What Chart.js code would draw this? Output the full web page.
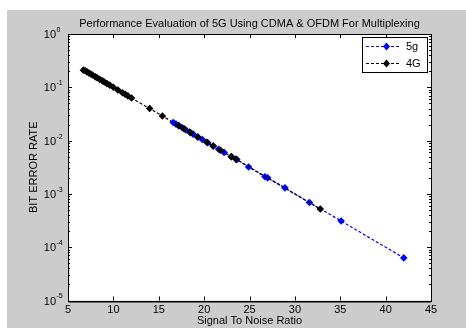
<!DOCTYPE html>
<html>
<head>
<meta charset="utf-8">
<script src="https://cdn.jsdelivr.net/npm/chart.js"></script>
<style>
  html, body { margin: 0; padding: 0; background: #fff; }
  #wrap { width: 466px; height: 328px; }
</style>
</head>
<body>
<div id="wrap"><canvas id="myChart" width="466" height="328"></canvas></div>
<script>
// values
var title = 'Performance Evaluation of 5G Using CDMA & OFDM For Multiplexing';
var xLabel = 'Signal To Noise Ratio';
var yLabel = 'BIT ERROR RATE';
var xTicks = [5, 10, 15, 20, 25, 30, 35, 40, 45];
var yExponents = [0, -1, -2, -3, -4, -5];

var snr5g = [16.6, 16.9, 17.2, 17.6, 18.0, 18.4, 18.8, 19.3, 19.8, 20.4, 21.0, 21.6, 22.2, 23.0, 23.6, 24.9, 26.7, 27.0, 28.9, 31.6, 35.1, 42.0];
var ber5g = [0.0219, 0.0204, 0.0191, 0.0174, 0.0158, 0.0145, 0.0132, 0.0117, 0.0105, 0.0091, 0.0079, 0.0069, 0.0060, 0.0050, 0.0044, 0.0032, 0.0021, 0.0020, 0.0013, 0.00069, 0.00031, 0.000063];

var snr4g = [6.7, 6.9, 7.1, 7.3, 7.5, 7.7, 8.0, 8.2, 8.5, 8.8, 9.0, 9.3, 9.6, 10.0, 10.5, 11.0, 11.3, 11.6, 12.0, 14.0, 15.4, 17.2, 17.8, 18.5, 19.3, 20.3, 21.0, 21.8, 23.0, 23.5, 32.8];
var ber4g = [0.21, 0.204, 0.195, 0.186, 0.178, 0.170, 0.158, 0.151, 0.141, 0.132, 0.126, 0.117, 0.110, 0.100, 0.089, 0.079, 0.074, 0.069, 0.063, 0.040, 0.029, 0.019, 0.0166, 0.0141, 0.0117, 0.0093, 0.0079, 0.0066, 0.0050, 0.0045, 0.00052];

function pts(xs, ys) {
    return xs.map(function (x, i) { return { x: x, y: ys[i] }; });
}

var FONT = '"Liberation Sans", Arial, sans-serif';

// matlab style frame: grey figure, boxed axes, inward ticks, custom legend
var matlabFrame = {
    id: 'matlabFrame',
    beforeDraw: function (chart) {
        var c = chart.ctx, a = chart.chartArea;
        c.save();
        c.fillStyle = '#fff';
        c.fillRect(0, 0, chart.width, chart.height);
        c.fillStyle = '#cccccc';
        c.fillRect(7, 10, chart.width - 7, chart.height - 10);
        c.fillStyle = '#fff';
        c.fillRect(a.left, a.top, a.right - a.left, a.bottom - a.top);
        c.restore();
    },
    afterDraw: function (chart) {
        var c = chart.ctx, a = chart.chartArea;
        var xs = chart.scales.x, ys = chart.scales.y;
        c.save();
        c.strokeStyle = '#000';
        c.lineWidth = 1;
        c.strokeRect(Math.round(a.left) + 0.5, Math.round(a.top) + 0.5,
            Math.round(a.right - a.left), Math.round(a.bottom - a.top));
        // matlab draws the x and y axis lines a bit heavier
        c.beginPath();
        c.moveTo(Math.round(a.left) + 0.5, a.top);
        c.lineTo(Math.round(a.left) + 0.5, Math.round(a.bottom) + 1);
        c.lineTo(a.right, Math.round(a.bottom) + 1);
        c.stroke();

        c.beginPath();
        xTicks.forEach(function (v) {
            var px = Math.round(xs.getPixelForValue(v)) + 0.5;
            c.moveTo(px, a.bottom); c.lineTo(px, a.bottom - 4);
            c.moveTo(px, a.top); c.lineTo(px, a.top + 4);
        });
        yExponents.forEach(function (e) {
            var py = Math.round(ys.getPixelForValue(Math.pow(10, e))) + 0.5;
            c.moveTo(a.left, py); c.lineTo(a.left + 4, py);
            c.moveTo(a.right, py); c.lineTo(a.right - 4, py);
        });
        for (var e = -5; e < 0; e++) {
            for (var m = 2; m <= 9; m++) {
                var py = Math.round(ys.getPixelForValue(m * Math.pow(10, e))) + 0.5;
                c.moveTo(a.left, py); c.lineTo(a.left + 2, py);
                c.moveTo(a.right, py); c.lineTo(a.right - 2, py);
            }
        }
        c.stroke();

        // y tick labels 10^n
        c.fillStyle = '#000';
        c.textBaseline = 'middle';
        yExponents.forEach(function (e) {
            var py = ys.getPixelForValue(Math.pow(10, e));
            c.font = '11px ' + FONT;
            c.textAlign = 'right';
            c.fillText('10', 56, py + 1);
            c.font = '7px ' + FONT;
            c.textAlign = 'left';
            c.fillText(String(e), 56.5, py - 4);
        });

        // title over the axes
        c.font = '11px ' + FONT;
        c.textAlign = 'center';
        c.fillText(title, (a.left + a.right) / 2, 24);

        // legend
        var lx = 362, ly = 37, lw = 65, lh = 35;
        c.fillStyle = '#fff';
        c.fillRect(lx, ly, lw, lh);
        c.strokeRect(lx + 0.5, ly + 0.5, lw, lh);
        chart.data.datasets.forEach(function (ds, i) {
            var yy = ly + 9 + i * 17;
            c.strokeStyle = ds.borderColor;
            c.setLineDash([3, 2]);
            c.beginPath();
            c.moveTo(lx + 4, yy + 0.5); c.lineTo(lx + 38, yy + 0.5);
            c.stroke();
            c.setLineDash([]);
            c.fillStyle = ds.borderColor;
            c.beginPath();
            c.moveTo(lx + 24.5, yy - 3.5); c.lineTo(lx + 28, yy + 0.5);
            c.lineTo(lx + 24.5, yy + 4.5); c.lineTo(lx + 21, yy + 0.5);
            c.closePath();
            c.fill();
            c.fillStyle = '#000';
            c.font = '11px ' + FONT;
            c.textAlign = 'left';
            c.fillText(ds.label, lx + 44, yy + 1);
        });
        c.restore();
    }
};

var ctx = document.getElementById('myChart').getContext('2d');
window.myChart = new Chart(ctx, {
    type: 'scatter',
    data: {
        datasets: [{
            label: '5g',
            data: pts(snr5g, ber5g),
            showLine: true,
            borderColor: '#0000ff',
            backgroundColor: '#0000ff',
            borderWidth: 1.2,
            borderDash: [3, 2],
            pointStyle: 'rectRot',
            pointRadius: 3.8,
            pointBorderWidth: 0,
            order: 1
        }, {
            label: '4G',
            data: pts(snr4g, ber4g),
            showLine: true,
            borderColor: '#000000',
            backgroundColor: '#000000',
            borderWidth: 1.2,
            borderDash: [3, 2],
            pointStyle: 'rectRot',
            pointRadius: 3.8,
            pointBorderWidth: 0,
            order: 0
        }]
    },
    options: {
        responsive: false,
        animation: false,
        layout: { padding: { top: 34, right: 35, bottom: 0, left: 0 } },
        plugins: {
            legend: { display: false },
            tooltip: { enabled: false }
        },
        scales: {
            x: {
                type: 'linear',
                min: 5, max: 45,
                afterBuildTicks: function (s) { s.ticks = xTicks.map(function (v) { return { value: v }; }); },
                afterFit: function (s) { s.height = 27.5; },
                grid: { display: false, drawTicks: false },
                border: { display: false },
                ticks: { color: '#000', padding: 3, font: { family: FONT, size: 11 }, maxRotation: 0 },
                title: { display: true, text: xLabel, color: '#000', font: { family: FONT, size: 11 }, padding: { top: 0, bottom: 0 } }
            },
            y: {
                type: 'logarithmic',
                min: 1e-5, max: 1,
                afterFit: function (s) { s.width = 68; },
                grid: { display: false, drawTicks: false },
                border: { display: false },
                ticks: { display: false },
                title: { display: true, text: yLabel, color: '#000', font: { family: FONT, size: 11 }, padding: { top: 27, bottom: 0 } }
            }
        }
    },
    plugins: [matlabFrame]
});
</script>
</body>
</html>
